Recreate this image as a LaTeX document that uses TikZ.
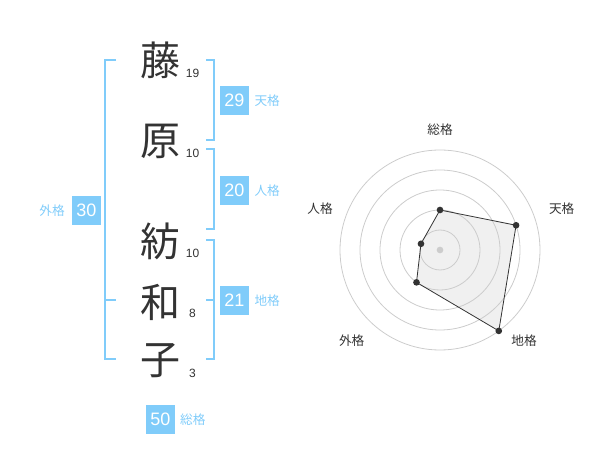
\documentclass[tikz,border=0pt]{standalone}
\usepackage{fontspec}
\setmainfont{Liberation Sans}
\newfontfamily\cjk{Noto Sans CJK JP}
\usetikzlibrary{positioning}
\definecolor{kakublue}{RGB}{128,204,250}
\definecolor{inkgray}{RGB}{51,51,51}
\definecolor{gridgray}{RGB}{204,204,204}
\definecolor{areagray}{RGB}{240,240,240}
\tikzset{
	kanji/.style={font=\cjk\fontsize{30}{30}\selectfont, text=inkgray, inner sep=0pt},
	strokes/.style={font=\fontsize{9}{9}\selectfont, text=inkgray, inner sep=0pt},
	scorebox/.style={fill=kakublue, text=white, minimum width=21.75pt, minimum height=21.75pt, inner sep=0pt, font=\fontsize{13.5}{13.5}\selectfont},
	kakulabel/.style={font=\cjk\fontsize{9.5}{9.5}\selectfont, text=kakublue, inner sep=0pt},
	bracket/.style={draw=kakublue, line width=1.5pt},
	radarlabel/.style={font=\cjk\fontsize{9.5}{9.5}\selectfont, text=inkgray, inner sep=0pt},
	radargrid/.style={draw=gridgray, line width=0.6pt},
	radardot/.style={circle, fill=inkgray, inner sep=0pt, minimum size=5pt},
}
\begin{document}
\begin{tikzpicture}[x=0.75pt,y=0.75pt,yscale=-1,xscale=1]
	\useasboundingbox (0,0) rectangle (600,470);

	% name
	\node[kanji] (k1) at (160,60) {藤};
	\node[kanji] (k2) at (160,141) {原};
	\node[kanji] (k3) at (160,241) {紡};
	\node[kanji] (k4) at (160,302) {和};
	\node[kanji] (k5) at (160,361) {子};
	\node[strokes] (s1) at (192.5,73) {19};
	\node[strokes] (s2) at (192.5,153) {10};
	\node[strokes] (s3) at (192.5,253) {10};
	\node[strokes] (s4) at (192.5,313) {8};
	\node[strokes] (s5) at (192.5,373) {3};

	% brackets
	\draw[bracket] (116,60) -- (105,60) -- (105,359) -- (116,359);
	\draw[bracket] (105,300) -- (116,300);
	\draw[bracket] (206,60) -- (214,60) -- (214,140) -- (206,140);
	\draw[bracket] (206,149) -- (214,149) -- (214,229) -- (206,229);
	\draw[bracket] (206,240) -- (214,240) -- (214,359) -- (206,359);
	\draw[bracket] (206,300) -- (214,300);

	% scores
	\node[scorebox] (ten) at (234.5,100.3) {29};
	\node[kakulabel, right=3.75pt of ten] (tenL) {天格};
	\node[scorebox] (jin) at (234.5,190.3) {20};
	\node[kakulabel, right=3.75pt of jin] (jinL) {人格};
	\node[scorebox] (chi) at (234.5,300.3) {21};
	\node[kakulabel, right=3.75pt of chi] (chiL) {地格};
	\node[scorebox] (gai) at (86.5,210.3) {30};
	\node[kakulabel, left=5pt of gai] (gaiL) {外格};
	\node[scorebox] (sou) at (160.5,419.2) {50};
	\node[kakulabel, right=3.5pt of sou] (souL) {総格};

	% radar
	\coordinate (c) at (440,250);
	\foreach \name/\ang/\r in {So/-90/40, Ten/-18/80, Chi/54/100, Gai/126/40, Jin/198/20}
		\path (c) ++(\ang:\r) coordinate (v\name);
	\fill[areagray] (vSo) -- (vTen) -- (vChi) -- (vGai) -- (vJin) -- cycle;
	\foreach \r in {20,40,...,100}
		\draw[radargrid] (c) circle[radius=\r];
	\draw[inkgray, line width=0.6pt] (vSo) -- (vTen) -- (vChi) -- (vGai) -- (vJin) -- cycle;
	\foreach \name in {So,Ten,Chi,Gai,Jin}
		\node[radardot] (p\name) at (v\name) {};
	\node[circle, fill=gridgray, inner sep=0pt, minimum size=5pt] (pc) at (c) {};

	\node[radarlabel] (rSo) at (440,130) {総格};
	\node[radarlabel] (rTen) at (561.7,208.3) {天格};
	\node[radarlabel] (rChi) at (524,341) {地格};
	\node[radarlabel] (rGai) at (351.7,341) {外格};
	\node[radarlabel] (rJin) at (320,208.3) {人格};
\end{tikzpicture}
\end{document}
